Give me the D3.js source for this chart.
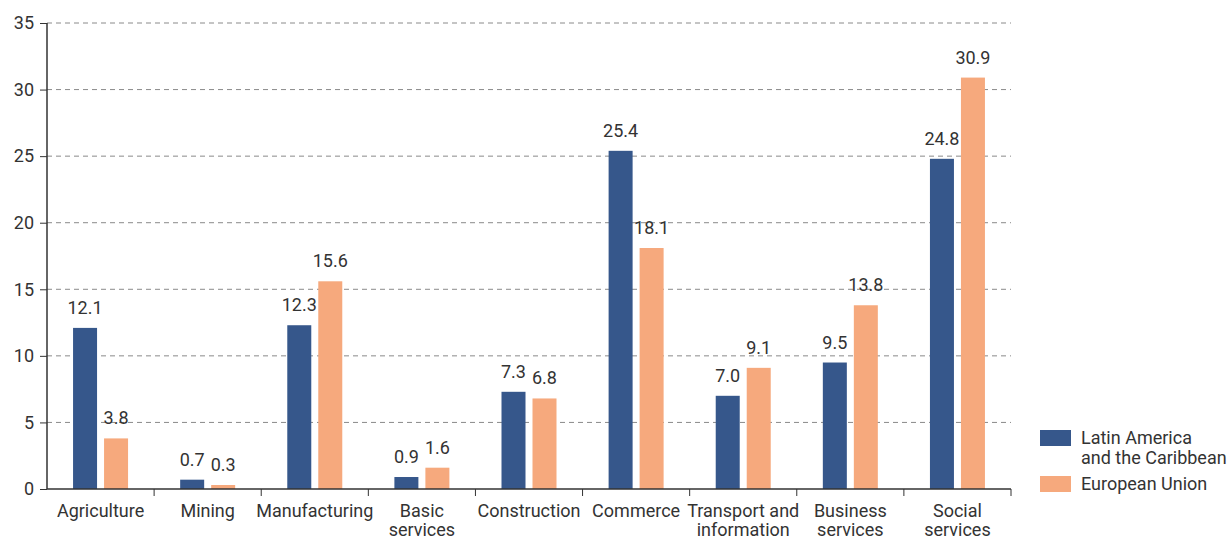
<!DOCTYPE html>
<html>
<head>
<meta charset="utf-8">
<script src="https://cdn.jsdelivr.net/npm/d3@7"></script>
<style>
  html, body { margin: 0; padding: 0; background: #fff; }
  svg text { font-family: "Liberation Sans Narrow", "Roboto", "Liberation Sans", sans-serif; fill: #333; }
</style>
</head>
<body>
<svg id="chart" width="1228" height="539"></svg>
<script>
// Employment shares by sector (%)
const categories = [
  ["Agriculture"], ["Mining"], ["Manufacturing"], ["Basic", "services"],
  ["Construction"], ["Commerce"], ["Transport and", "information"],
  ["Business", "services"], ["Social", "services"]
];
const seriesNames = ["Latin America\nand the Caribbean", "European Union"];
const latinAmerica = [12.1, 0.7, 12.3, 0.9, 7.3, 25.4, 7.0, 9.5, 24.8];
const europeanUnion = [3.8, 0.3, 15.6, 1.6, 6.8, 18.1, 9.1, 13.8, 30.9];
const yTicks = [0, 5, 10, 15, 20, 25, 30, 35];
const colors = ["#36578b", "#f6a97d"];

const svg = d3.select("#chart");
const margin = { left: 47, right: 1011, top: 23, bottom: 489 };

const x = d3.scaleBand()
  .domain(d3.range(categories.length))
  .range([margin.left, margin.right])
  .padding(0);

const y = d3.scaleLinear().domain([0, 35]).range([margin.bottom, margin.top]);

const barW = 24, gap = 7;
const series = [latinAmerica, europeanUnion];

// horizontal dashed gridlines
svg.append("g").selectAll("line")
  .data(yTicks.filter(d => d > 0))
  .join("line")
  .attr("x1", margin.left).attr("x2", margin.right)
  .attr("y1", d => y(d)).attr("y2", d => y(d))
  .attr("stroke", "#8a8a8a").attr("stroke-width", 1)
  .attr("stroke-dasharray", "5,4");

// bars and value labels
series.forEach((vals, s) => {
  const offset = -(barW + gap / 2) + s * (barW + gap);
  svg.append("g").selectAll("rect")
    .data(vals)
    .join("rect")
    .attr("x", (d, i) => x(i) + x.bandwidth() / 2 + offset)
    .attr("width", barW)
    .attr("y", d => y(d))
    .attr("height", d => y(0) - y(d))
    .attr("fill", colors[s]);
  svg.append("g").selectAll("text")
    .data(vals)
    .join("text")
    .attr("x", (d, i) => x(i) + x.bandwidth() / 2 + offset + barW / 2)
    .attr("y", d => y(d) - 14)
    .attr("text-anchor", "middle")
    .attr("font-size", 18)
    .text(d => d.toFixed(1));
});

// y axis
const yAxis = d3.axisLeft(y).tickValues(yTicks).tickSize(7).tickPadding(6);
const gy = svg.append("g").attr("transform", `translate(${margin.left},0)`).call(yAxis);
gy.select(".domain").attr("stroke", "#333").attr("stroke-width", 1.5).attr("d", `M0,${y(0)}V${y(35)}`);
gy.selectAll(".tick line").attr("stroke", "#333");
gy.selectAll(".tick text").attr("font-size", 18).attr("fill", "#333")
  .style("font-family", '"Liberation Sans Narrow", "Roboto", sans-serif');

// x axis with ticks on category boundaries
const gx = svg.append("g");
gx.append("line")
  .attr("x1", margin.left).attr("x2", margin.right)
  .attr("y1", y(0)).attr("y2", y(0))
  .attr("stroke", "#333").attr("stroke-width", 1.5);
gx.selectAll("line.tk")
  .data(d3.range(1, categories.length + 1))
  .join("line").attr("class", "tk")
  .attr("x1", i => x.range()[0] + i * x.step()).attr("x2", i => x.range()[0] + i * x.step())
  .attr("y1", y(0)).attr("y2", y(0) + 7)
  .attr("stroke", "#333");
gx.selectAll("text.cat")
  .data(categories)
  .join("text").attr("class", "cat")
  .attr("text-anchor", "middle")
  .attr("font-size", 18)
  .attr("transform", (d, i) => `translate(${x(i) + x.bandwidth() / 2},${y(0) + 28})`)
  .selectAll("tspan")
  .data(d => d)
  .join("tspan")
  .attr("x", 0)
  .attr("dy", (d, j) => j === 0 ? 0 : 19)
  .text(d => d);

// legend
const legend = svg.append("g").attr("transform", "translate(1040,430)");
const entries = [
  { name: seriesNames[0], color: colors[0], y: 0 },
  { name: seriesNames[1], color: colors[1], y: 46 }
];
entries.forEach(e => {
  legend.append("rect").attr("x", 0).attr("y", e.y).attr("width", 31).attr("height", 16).attr("fill", e.color);
  const t = legend.append("text").attr("x", 41).attr("y", e.y + 14).attr("font-size", 18);
  e.name.split("\n").forEach((line, j) => {
    t.append("tspan").attr("x", 41).attr("dy", j === 0 ? 0 : 20).text(line);
  });
});
</script>
</body>
</html>
